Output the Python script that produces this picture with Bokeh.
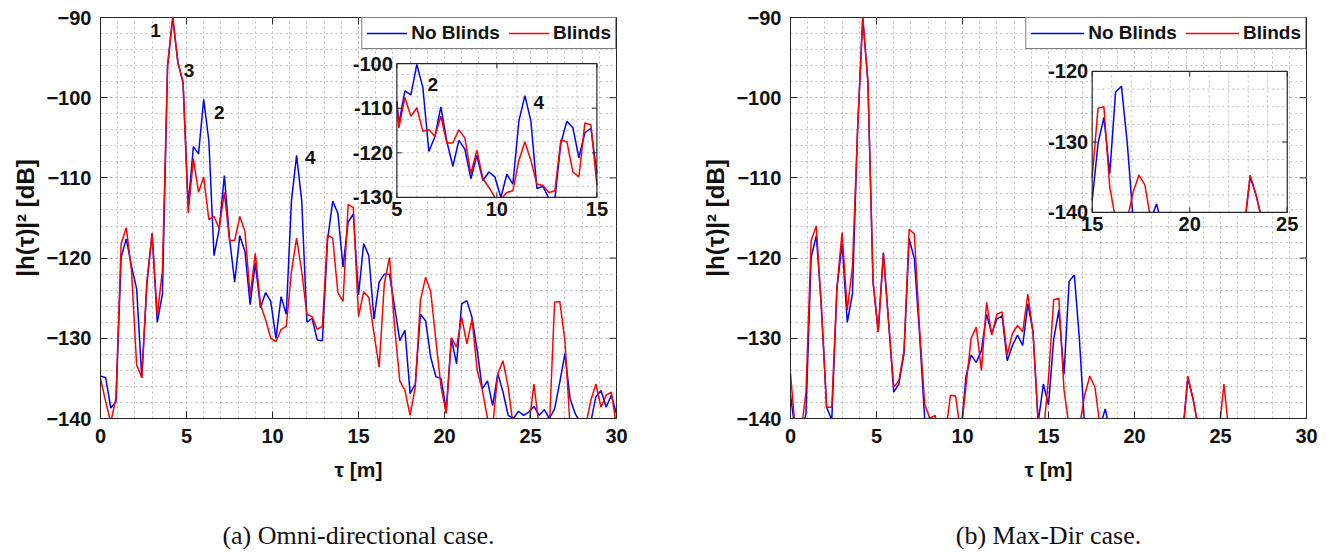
import math
import numpy as np
from bokeh.plotting import figure
from bokeh.models import (Range1d, LinearAxis, SingleIntervalTicker, FixedTicker, Legend, LegendItem)
from bokeh.layouts import row
from bokeh.embed import file_html
from bokeh.resources import INLINE
from bokeh.core.properties import value

# ---------------- data ----------------
TAU = [round(0.3 * i, 1) for i in range(101)]

OMNI_NO_BLINDS = [
    -134.7, -134.9, -138.7, -137.9, -119.9, -117.6, -121.0, -123.8, -134.9, -123.2,
    -116.9, -128.0, -124.5, -96.0, -90.0, -95.6, -98.1, -113.5, -106.1, -107.0,
    -100.2, -105.4, -119.7, -116.4, -109.7, -117.5, -123.0, -117.2, -119.2, -125.8,
    -120.6, -126.2, -124.3, -125.4, -130.0, -124.8, -127.0, -112.9, -107.2, -112.9,
    -128.0, -127.5, -130.2, -130.3, -117.8, -112.9, -114.4, -121.1, -115.5, -114.5,
    -124.6, -118.2, -119.7, -127.6, -123.0, -122.0, -122.0, -126.1, -130.3, -129.0,
    -136.9, -135.7, -127.0, -127.8, -132.4, -134.8, -135.0, -139.0, -130.0, -133.2,
    -125.7, -125.3, -127.4, -131.5, -136.3, -135.3, -138.4, -134.4, -136.7, -139.6,
    -140.0, -139.1, -139.6, -139.2, -138.5, -139.6, -138.9, -140.0, -138.8, -135.5,
    -131.9, -137.5, -139.4, -140.5, -141.0, -140.5, -137.3, -136.5, -138.6, -137.1,
    -139.4]

OMNI_BLINDS = [
    -135.0, -137.9, -140.5, -137.4, -118.2, -116.2, -121.5, -133.3, -134.9, -122.8,
    -116.9, -127.2, -121.5, -96.0, -90.0, -95.6, -98.1, -114.4, -107.6, -111.8,
    -109.9, -115.2, -114.8, -116.3, -111.8, -117.8, -117.8, -114.8, -116.7, -124.7,
    -119.4, -125.8, -127.7, -130.0, -130.4, -128.9, -128.5, -121.7, -117.5, -121.7,
    -127.0, -127.3, -128.9, -128.5, -117.1, -117.5, -124.3, -125.4, -113.3, -113.7,
    -127.3, -124.2, -124.9, -129.4, -133.6, -123.2, -119.9, -128.6, -135.3, -136.5,
    -139.6, -136.1, -125.3, -122.4, -124.2, -130.3, -136.1, -139.4, -129.9, -131.1,
    -127.4, -130.7, -127.6, -134.0, -136.5, -140.0, -141.0, -134.4, -132.8, -136.1,
    -141.0, -142.0, -141.0, -141.0, -135.7, -141.0, -142.0, -141.0, -125.5, -125.4,
    -130.3, -141.0, -142.0, -142.0, -141.0, -137.8, -135.7, -138.6, -137.1, -136.7,
    -141.0]

MAXDIR_NO_BLINDS = [
    -137.1, -142.0, -142.0, -139.4, -119.9, -117.2, -126.1, -138.6, -140.2, -123.8,
    -118.2, -128.0, -124.5, -104.0, -90.0, -98.0, -123.0, -129.2, -119.3, -127.9,
    -136.7, -135.7, -131.9, -117.6, -120.1, -129.4, -140.0, -142.0, -142.0, -142.0,
    -142.0, -141.0, -141.0, -142.0, -134.8, -132.1, -133.0, -131.5, -127.0, -129.4,
    -127.6, -127.2, -132.8, -130.9, -129.6, -130.9, -125.7, -129.2, -140.5, -135.7,
    -138.3, -130.2, -126.5, -134.5, -122.9, -122.1, -130.2, -141.0, -142.0, -142.0,
    -141.0, -138.8, -142.0, -142.0, -142.0, -142.0, -142.0, -142.0, -142.0, -142.0,
    -142.0, -142.0, -142.0, -142.0, -142.0, -142.0, -142.0, -135.0, -137.5, -141.0,
    -142.0, -142.0, -142.0, -142.0, -142.0, -142.0, -142.0, -142.0, -142.0, -142.0,
    -142.0, -142.0, -142.0, -142.0, -142.0, -142.0, -142.0, -142.0, -142.0, -142.0,
    -142.0]

MAXDIR_BLINDS = [
    -134.4, -142.0, -142.0, -136.7, -117.8, -116.0, -126.5, -138.6, -138.6, -123.6,
    -116.8, -126.5, -121.1, -104.0, -90.0, -98.0, -123.0, -129.2, -119.5, -127.8,
    -136.1, -135.3, -131.5, -116.4, -117.0, -128.6, -138.2, -140.0, -139.6, -142.0,
    -142.0, -137.1, -137.2, -142.0, -136.0, -130.0, -128.6, -134.0, -125.5, -129.6,
    -127.0, -126.7, -132.1, -129.4, -128.4, -129.2, -124.5, -129.2, -140.5, -142.0,
    -135.0, -125.2, -125.0, -136.4, -141.0, -142.0, -141.0, -137.1, -134.7, -136.1,
    -141.0, -142.0, -142.0, -142.0, -142.0, -142.0, -142.0, -142.0, -142.0, -142.0,
    -142.0, -142.0, -142.0, -142.0, -142.0, -142.0, -142.0, -134.7, -137.5, -141.0,
    -142.0, -142.0, -142.0, -142.0, -135.7, -142.0, -142.0, -142.0, -142.0, -142.0,
    -142.0, -142.0, -142.0, -142.0, -142.0, -142.0, -142.0, -142.0, -142.0, -142.0,
    -142.0]

SERIES_NAMES = ["No Blinds", "Blinds"]
X_RANGE = (0, 30)
Y_RANGE = (-140, -90)
X_TICKS = [0, 5, 10, 15, 20, 25, 30]
Y_TICKS = [-140, -130, -120, -110, -100, -90]

INSET_A_X = (5, 15)
INSET_A_Y = (-130, -100)
INSET_A_XTICKS = [5, 10, 15]
INSET_A_YTICKS = [-130, -120, -110, -100]

INSET_B_X = (15, 25)
INSET_B_Y = (-140, -120)
INSET_B_XTICKS = [15, 20, 25]
INSET_B_YTICKS = [-140, -130, -120]

PEAK_LABELS = ["1", "3", "2", "4"]
PEAK_LABEL_X = [3.2, 5.15, 6.9, 12.2]
PEAK_LABEL_Y = [-91.6, -96.6, -101.8, -107.5]
INSET_PEAK_LABELS = ["2", "4"]
INSET_PEAK_X = [6.8, 12.1]
INSET_PEAK_Y = [-104.6, -108.8]

CAPTIONS = ["(a) Omni-directional case.", "(b) Max-Dir case."]

# ---------------- style ----------------
BLUE = "#0000ff"
RED = "#ff0000"
DARK = "#262626"
GRID = "#bdbdbd"
FONT = "Liberation Sans"
TICK_FS = "20px"


def clip_line(xs, ys, x0, x1, y0, y1):
    ox, oy = [], []
    last = None
    for i in range(len(xs) - 1):
        ax, ay, bx, by = xs[i], ys[i], xs[i + 1], ys[i + 1]
        dx, dy = bx - ax, by - ay
        t0, t1 = 0.0, 1.0
        ok = True
        for pp, qq in ((-dx, ax - x0), (dx, x1 - ax), (-dy, ay - y0), (dy, y1 - ay)):
            if pp == 0:
                if qq < 0:
                    ok = False
                    break
            else:
                t = qq / pp
                if pp < 0:
                    if t > t1:
                        ok = False
                        break
                    t0 = max(t0, t)
                else:
                    if t < t0:
                        ok = False
                        break
                    t1 = min(t1, t)
        if not ok:
            continue
        sx, sy = ax + t0 * dx, ay + t0 * dy
        ex, ey = ax + t1 * dx, ay + t1 * dy
        if last is None or abs(last[0] - sx) > 1e-9 or abs(last[1] - sy) > 1e-9:
            if ox:
                ox.append(np.nan)
                oy.append(np.nan)
            ox.append(sx)
            oy.append(sy)
        ox.append(ex)
        oy.append(ey)
        last = (ex, ey)
    return ox, oy


def style_axis(ax):
    ax.axis_line_color = DARK
    ax.axis_line_width = 1
    ax.major_tick_in = 7
    ax.major_tick_out = 0
    ax.minor_tick_in = 0
    ax.minor_tick_out = 0
    ax.major_tick_line_color = DARK
    ax.major_label_text_font = FONT
    ax.major_label_text_font_style = "bold"
    ax.major_label_text_font_size = TICK_FS
    ax.major_label_text_color = "#111111"


def add_inset(p, box, xd, yd, xticks, yticks, nb, bl, minor_x, minor_y):
    mx0, mx1, my0, my1 = box
    sx = (xd[1] - xd[0]) / (mx1 - mx0)
    sy = (yd[1] - yd[0]) / (my1 - my0)
    xr = Range1d(xd[0] - (mx0 - X_RANGE[0]) * sx, xd[1] + (X_RANGE[1] - mx1) * sx)
    yr = Range1d(yd[0] - (my0 - Y_RANGE[0]) * sy, yd[1] + (Y_RANGE[1] - my1) * sy)
    p.extra_x_ranges = {"ix": xr}
    p.extra_y_ranges = {"iy": yr}
    kw = dict(x_range_name="ix", y_range_name="iy")
    p.quad(left=[xd[0]], right=[xd[1]], bottom=[yd[0]], top=[yd[1]],
           fill_color="white", line_color=None, **kw)
    gx = [v for v in np.arange(xd[0], xd[1] + 1e-9, minor_x)][1:-1]
    gy = [v for v in np.arange(yd[0], yd[1] + 1e-9, minor_y)][1:-1]
    p.segment(x0=gx, y0=[yd[0]] * len(gx), x1=gx, y1=[yd[1]] * len(gx),
              line_color=GRID, line_dash="2 3", line_width=1, **kw)
    p.segment(x0=[xd[0]] * len(gy), y0=gy, x1=[xd[1]] * len(gy), y1=gy,
              line_color=GRID, line_dash="2 3", line_width=1, **kw)
    cx, cy = clip_line(TAU, nb, xd[0], xd[1], yd[0], yd[1])
    p.line(cx, cy, line_color=BLUE, line_width=1.5, **kw)
    cx, cy = clip_line(TAU, bl, xd[0], xd[1], yd[0], yd[1])
    p.line(cx, cy, line_color=RED, line_width=1.5, **kw)
    p.quad(left=[xd[0]], right=[xd[1]], bottom=[yd[0]], top=[yd[1]],
           fill_alpha=0, line_color=DARK, line_width=1.2, **kw)
    p.ray(x=[xd[0]] * len(yticks), y=yticks, length=5, length_units="screen", angle=0,
          line_color=DARK, **kw)
    p.ray(x=[xd[1]] * len(yticks), y=yticks, length=5, length_units="screen", angle=math.pi,
          line_color=DARK, **kw)
    p.ray(x=xticks, y=[yd[0]] * len(xticks), length=5, length_units="screen", angle=math.pi / 2,
          line_color=DARK, **kw)
    p.ray(x=xticks, y=[yd[1]] * len(xticks), length=5, length_units="screen", angle=-math.pi / 2,
          line_color=DARK, **kw)
    p.text(x=[xd[0]] * len(yticks), y=yticks, text=[str(v) for v in yticks],
           x_offset=-4, text_align="right", text_baseline="middle",
           text_font=value(FONT), text_font_style="bold", text_font_size=TICK_FS,
           text_color="#111111", **kw)
    p.text(x=xticks, y=[yd[0]] * len(xticks), text=[str(v) for v in xticks],
           y_offset=5, text_align="center", text_baseline="top",
           text_font=value(FONT), text_font_style="bold", text_font_size=TICK_FS,
           text_color="#111111", **kw)


def make_panel(nb, bl, caption, inset, right_border, glyph_w):
    p = figure(frame_width=516, frame_height=401,
               x_range=Range1d(*X_RANGE), y_range=Range1d(*Y_RANGE),
               output_backend="svg", toolbar_location=None,
               min_border_left=100, min_border_right=right_border,
               min_border_top=17, min_border_bottom=135)
    p.outline_line_color = DARK
    p.outline_line_width = 1
    p.xaxis.ticker = SingleIntervalTicker(interval=5, num_minor_ticks=5)
    p.yaxis.ticker = SingleIntervalTicker(interval=10, num_minor_ticks=5)
    for ax in p.xaxis + p.yaxis:
        style_axis(ax)
    p.xaxis.major_label_standoff = 10
    p.yaxis.major_label_standoff = 9
    p.xaxis.axis_label = "τ [m]"
    p.yaxis.axis_label = "|h(τ)|² [dB]"
    p.xaxis.axis_label_text_font_size = "21px"
    p.yaxis.axis_label_text_font_size = "24px"
    for ax in p.xaxis + p.yaxis:
        ax.axis_label_text_font = FONT
        ax.axis_label_text_font_style = "bold"
        ax.axis_label_text_color = "#111111"
    p.xaxis.axis_label_standoff = 12
    p.yaxis.axis_label_standoff = 4

    # caption as an outer, tick-less axis label below the x axis
    cap = LinearAxis(ticker=FixedTicker(ticks=[]), axis_label=caption)
    cap.axis_line_color = None
    cap.major_tick_line_color = None
    cap.minor_tick_line_color = None
    cap.major_label_standoff = 0
    cap.axis_label_standoff = 37
    cap.axis_label_text_font = "Liberation Serif"
    cap.axis_label_text_font_style = "normal"
    cap.axis_label_text_font_size = "26px"
    cap.axis_label_text_color = "#111111"
    p.add_layout(cap, "below")

    # inward ticks on the top and right edges of the box
    p.ray(x=[X_RANGE[1]] * len(Y_TICKS), y=Y_TICKS, length=7, length_units="screen",
          angle=math.pi, line_color=DARK)
    p.ray(x=X_TICKS, y=[Y_RANGE[1]] * len(X_TICKS), length=7, length_units="screen",
          angle=-math.pi / 2, line_color=DARK)

    for g in (p.xgrid[0], p.ygrid[0]):
        g.grid_line_color = GRID
        g.grid_line_dash = "2 3"
        g.grid_line_width = 1
        g.minor_grid_line_color = GRID
        g.minor_grid_line_dash = "2 3"
        g.minor_grid_line_width = 1

    rb = p.line(TAU, nb, line_color=BLUE, line_width=1.5)
    rr = p.line(TAU, bl, line_color=RED, line_width=1.5)

    add_inset(p, *inset, nb, bl, 1, 2.5)

    leg = Legend(items=[LegendItem(label=SERIES_NAMES[0], renderers=[rb]),
                        LegendItem(label=SERIES_NAMES[1], renderers=[rr])],
                 orientation="horizontal", location="top_right")
    leg.border_line_color = "black"
    leg.border_line_width = 1.2
    leg.background_fill_alpha = 1
    leg.label_text_font = FONT
    leg.label_text_font_style = "bold"
    leg.label_text_font_size = "19px"
    leg.label_text_color = "#111111"
    leg.glyph_width = glyph_w
    leg.glyph_height = 20
    leg.label_height = 20
    leg.label_standoff = 4
    leg.spacing = 8
    leg.padding = 4
    leg.margin = 0
    p.add_layout(leg)
    return p


pa = make_panel(OMNI_NO_BLINDS, OMNI_BLINDS, CAPTIONS[0],
                ((17.23, 28.86, -112.44, -95.74), INSET_A_X, INSET_A_Y, INSET_A_XTICKS, INSET_A_YTICKS),
                74, 41)
pa.text(x=PEAK_LABEL_X, y=PEAK_LABEL_Y, text=PEAK_LABELS, text_align="center", text_baseline="middle",
        text_font=value(FONT), text_font_style="bold", text_font_size="19px", text_color="#111111")
pa.text(x=INSET_PEAK_X, y=INSET_PEAK_Y, text=INSET_PEAK_LABELS, text_align="center",
        text_baseline="middle", text_font=value(FONT), text_font_style="bold", text_font_size="19px",
        text_color="#111111", x_range_name="ix", y_range_name="iy")

pb = make_panel(MAXDIR_NO_BLINDS, MAXDIR_BLINDS, CAPTIONS[1],
                ((17.54, 28.88, -114.31, -96.73), INSET_B_X, INSET_B_Y, INSET_B_XTICKS, INSET_B_YTICKS),
                25, 54)

layout = row(pa, pb, spacing=0)
open("out.html", "w").write(file_html(layout, INLINE))
